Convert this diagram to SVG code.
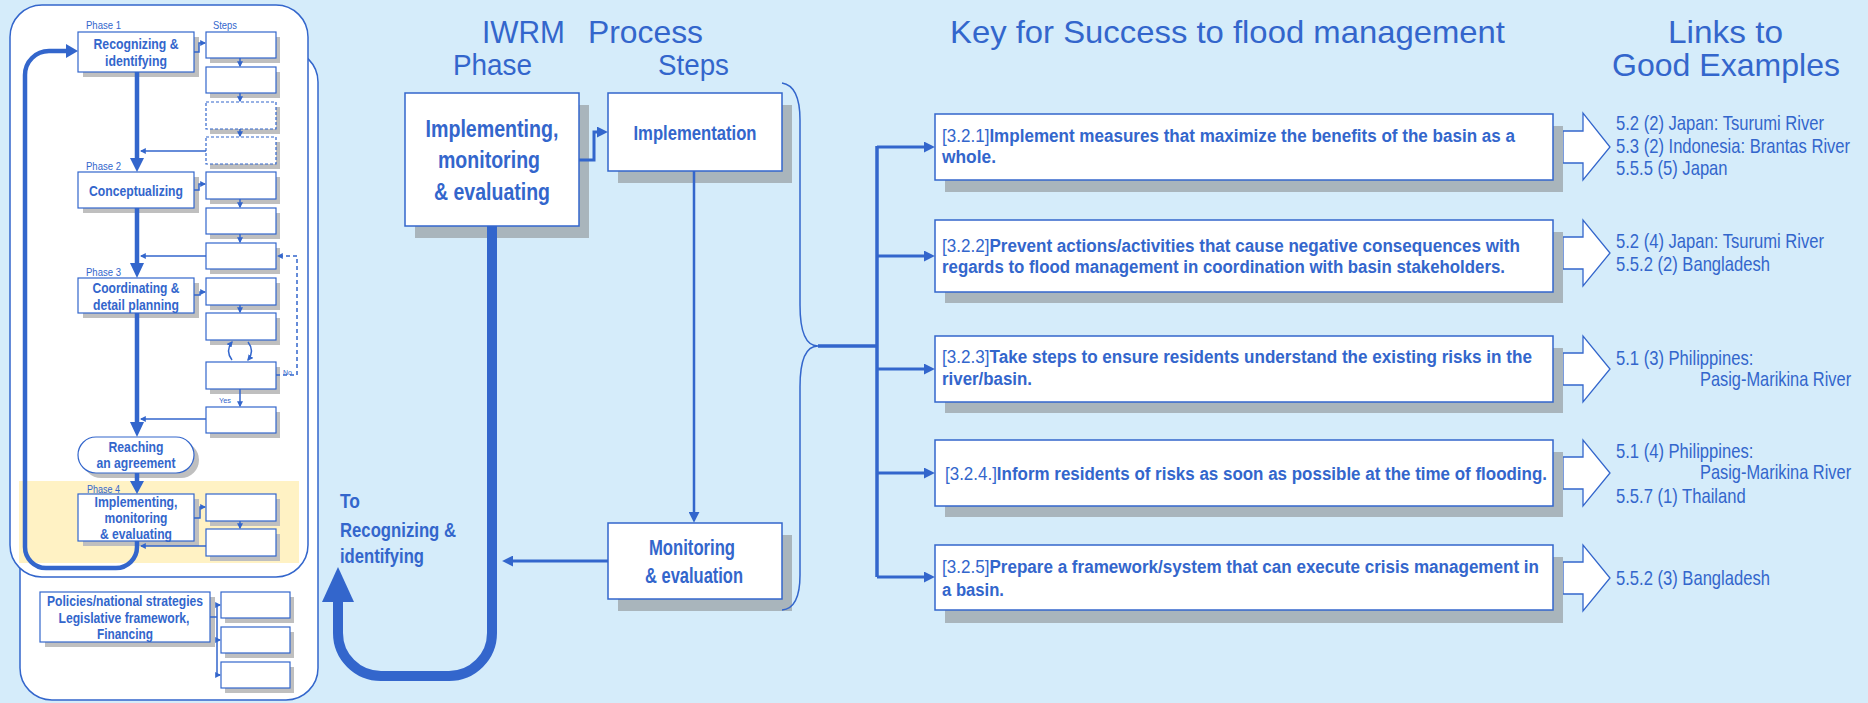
<svg xmlns="http://www.w3.org/2000/svg" width="1868" height="703" viewBox="0 0 1868 703">
<defs>
<style>
.t{font-family:"Liberation Sans",Arial,sans-serif;fill:#3366cc}
.b{font-weight:bold}
.c{text-anchor:middle}
.lk{font-family:"Liberation Sans",Arial,sans-serif;fill:#3366cc;font-size:20px}
.box{fill:#fff;stroke:#3366cc;stroke-width:1.5}
.sbox{fill:#fff;stroke:#3366cc;stroke-width:1.2}
.dbox{fill:#fff;stroke:#3366cc;stroke-width:1.2;stroke-dasharray:3,2}
.sh{fill:#a9b5bc}
.sh2{fill:#bfbfbf}
.ln{fill:none;stroke:#3366cc}
.ar{fill:#fff;stroke:#3366cc;stroke-width:1.3}
.hd{fill:#3366cc}
</style>
<marker id="ah" viewBox="0 0 10 10" refX="6.5" refY="5" markerWidth="11" markerHeight="11" markerUnits="userSpaceOnUse" orient="auto"><path d="M0,0L10,5L0,10z" fill="#3366cc"/></marker>
<marker id="as" viewBox="0 0 10 10" refX="8" refY="5" markerWidth="6" markerHeight="6" markerUnits="userSpaceOnUse" orient="auto"><path d="M0,0L10,5L0,10z" fill="#3366cc"/></marker>
</defs>
<rect x="0" y="0" width="1868" height="703" fill="#d5ecfa"/>

<g id="left-panel">
<rect x="20" y="50" width="298" height="650" rx="32" fill="#fff" stroke="#3366cc" stroke-width="1.5"/>
<rect x="10" y="5" width="298" height="572" rx="32" fill="#fff" stroke="#3366cc" stroke-width="1.5"/>
<rect x="19" y="481" width="280" height="82" fill="#fff2c4"/>
</g>

<g id="left-nodes">
<g id="phase1"><rect class="sh2" x="83" y="37" width="116" height="40"/><rect class="sbox" x="78" y="32" width="116" height="40"/>
<text class="t b c" x="136" y="49" font-size="14" textLength="85" lengthAdjust="spacingAndGlyphs">Recognizing &amp;</text>
<text class="t b c" x="136" y="66" font-size="14" textLength="62" lengthAdjust="spacingAndGlyphs">identifying</text></g>
<g id="phase2"><rect class="sh2" x="83" y="177" width="116" height="36"/><rect class="sbox" x="78" y="172" width="116" height="36"/>
<text class="t b c" x="136" y="196" font-size="14" textLength="94" lengthAdjust="spacingAndGlyphs">Conceptualizing</text></g>
<g id="phase3"><rect class="sh2" x="83" y="283" width="116" height="35"/><rect class="sbox" x="78" y="278" width="116" height="35"/>
<text class="t b c" x="136" y="293" font-size="14" textLength="87" lengthAdjust="spacingAndGlyphs">Coordinating &amp;</text>
<text class="t b c" x="136" y="310" font-size="14" textLength="86" lengthAdjust="spacingAndGlyphs">detail planning</text></g>
<g id="agreement"><rect class="sh2" x="83" y="442" width="116" height="36" rx="18"/><rect class="sbox" x="78" y="437" width="116" height="36" rx="18"/>
<text class="t b c" x="136" y="452" font-size="14" textLength="55" lengthAdjust="spacingAndGlyphs">Reaching</text>
<text class="t b c" x="136" y="468" font-size="14" textLength="79" lengthAdjust="spacingAndGlyphs">an agreement</text></g>
<g id="phase4"><rect class="sh2" x="83" y="499" width="116" height="47"/><rect class="sbox" x="78" y="494" width="116" height="47"/>
<text class="t b c" x="136" y="507" font-size="14" textLength="83" lengthAdjust="spacingAndGlyphs">Implementing,</text>
<text class="t b c" x="136" y="523" font-size="14" textLength="63" lengthAdjust="spacingAndGlyphs">monitoring</text>
<text class="t b c" x="136" y="539" font-size="14" textLength="72" lengthAdjust="spacingAndGlyphs">&amp; evaluating</text></g>
<g id="policies"><rect class="sh2" x="45" y="597" width="170" height="50"/><rect class="sbox" x="40" y="592" width="170" height="50"/>
<text class="t b c" x="125" y="606" font-size="14" textLength="156" lengthAdjust="spacingAndGlyphs">Policies/national strategies</text>
<text class="t b c" x="124" y="623" font-size="14" textLength="131" lengthAdjust="spacingAndGlyphs">Legislative framework,</text>
<text class="t b c" x="125" y="639" font-size="14" textLength="56" lengthAdjust="spacingAndGlyphs">Financing</text></g>
<g id="steps-left">
<rect class="sh2" x="210" y="37" width="70" height="26"/><rect class="sbox" x="206" y="32" width="70" height="26"/>
<rect class="sh2" x="210" y="72" width="70" height="26"/><rect class="sbox" x="206" y="67" width="70" height="26"/>
<rect class="sh2" x="210" y="107" width="70" height="27"/><rect class="dbox" x="206" y="102" width="70" height="27"/>
<rect class="sh2" x="210" y="142" width="70" height="27"/><rect class="dbox" x="206" y="137" width="70" height="27"/>
<rect class="sh2" x="210" y="177" width="70" height="27"/><rect class="sbox" x="206" y="172" width="70" height="27"/>
<rect class="sh2" x="210" y="213" width="70" height="26"/><rect class="sbox" x="206" y="208" width="70" height="26"/>
<rect class="sh2" x="210" y="248" width="70" height="26"/><rect class="sbox" x="206" y="243" width="70" height="26"/>
<rect class="sh2" x="210" y="283" width="70" height="27"/><rect class="sbox" x="206" y="278" width="70" height="27"/>
<rect class="sh2" x="210" y="318" width="70" height="27"/><rect class="sbox" x="206" y="313" width="70" height="27"/>
<rect class="sh2" x="210" y="367" width="70" height="27"/><rect class="sbox" x="206" y="362" width="70" height="27"/>
<rect class="sh2" x="210" y="412" width="70" height="26"/><rect class="sbox" x="206" y="407" width="70" height="26"/>
<rect class="sh2" x="210" y="499" width="70" height="27"/><rect class="sbox" x="206" y="494" width="70" height="27"/>
<rect class="sh2" x="210" y="534" width="70" height="27"/><rect class="sbox" x="206" y="529" width="70" height="27"/>
<rect class="sh2" x="225" y="597" width="69" height="26"/><rect class="sbox" x="221" y="592" width="69" height="26"/>
<rect class="sh2" x="225" y="632" width="69" height="26"/><rect class="sbox" x="221" y="627" width="69" height="26"/>
<rect class="sh2" x="225" y="667" width="69" height="26"/><rect class="sbox" x="221" y="662" width="69" height="26"/>
</g>
<g id="left-labels">
<text class="t" x="86" y="29" font-size="11" textLength="35" lengthAdjust="spacingAndGlyphs">Phase  1</text>
<text class="t" x="213" y="29" font-size="11" textLength="24" lengthAdjust="spacingAndGlyphs">Steps</text>
<text class="t" x="86" y="170" font-size="11" textLength="35" lengthAdjust="spacingAndGlyphs">Phase  2</text>
<text class="t" x="86" y="276" font-size="11" textLength="35" lengthAdjust="spacingAndGlyphs">Phase  3</text>
<text class="t" x="87" y="493" font-size="11" textLength="33" lengthAdjust="spacingAndGlyphs">Phase 4</text>
<text class="t" x="219" y="403" font-size="8" textLength="12" lengthAdjust="spacingAndGlyphs">Yes</text>
<text class="t" x="283" y="375" font-size="8" textLength="9" lengthAdjust="spacingAndGlyphs">No</text>
</g>
</g>

<g id="middle-nodes">
<g id="implementing"><rect class="sh" x="415" y="105" width="174" height="133"/><rect class="box" x="405" y="93" width="174" height="133"/>
<text class="t b c" x="492" y="137" font-size="24" textLength="133" lengthAdjust="spacingAndGlyphs">Implementing,</text>
<text class="t b c" x="489" y="168" font-size="24" textLength="102" lengthAdjust="spacingAndGlyphs">monitoring</text>
<text class="t b c" x="492" y="200" font-size="24" textLength="116" lengthAdjust="spacingAndGlyphs">&amp; evaluating</text></g>
<g id="implementation"><rect class="sh" x="618" y="105" width="174" height="78"/><rect class="box" x="608" y="93" width="174" height="78"/>
<text class="t b c" x="695" y="140" font-size="21" textLength="123" lengthAdjust="spacingAndGlyphs">Implementation</text></g>
<g id="monitoring"><rect class="sh" x="618" y="535" width="174" height="76"/><rect class="box" x="608" y="523" width="174" height="76"/>
<text class="t b c" x="692" y="555" font-size="22" textLength="86" lengthAdjust="spacingAndGlyphs">Monitoring</text>
<text class="t b c" x="694" y="583" font-size="22" textLength="98" lengthAdjust="spacingAndGlyphs">&amp; evaluation</text></g>
<g id="to-recognizing">
<text class="t b" x="340" y="508" font-size="20" textLength="20" lengthAdjust="spacingAndGlyphs">To</text>
<text class="t b" x="340" y="537" font-size="20" textLength="116" lengthAdjust="spacingAndGlyphs">Recognizing &amp;</text>
<text class="t b" x="340" y="563" font-size="20" textLength="84" lengthAdjust="spacingAndGlyphs">identifying</text></g>
</g>

<g id="titles">
<text class="t" y="43" font-size="32"><tspan x="482" textLength="83" lengthAdjust="spacingAndGlyphs">IWRM</tspan><tspan x="588" textLength="115" lengthAdjust="spacingAndGlyphs">Process</tspan></text>
<text class="t" x="453" y="75" font-size="29" textLength="79" lengthAdjust="spacingAndGlyphs">Phase</text>
<text class="t" x="658" y="75" font-size="29" textLength="71" lengthAdjust="spacingAndGlyphs">Steps</text>
<text class="t" x="950" y="43" font-size="32" textLength="555" lengthAdjust="spacingAndGlyphs">Key for Success to flood management</text>
<text class="t" x="1668" y="43" font-size="32" textLength="115" lengthAdjust="spacingAndGlyphs">Links to</text>
<text class="t" x="1612" y="76" font-size="32" textLength="228" lengthAdjust="spacingAndGlyphs">Good Examples</text>
</g>

<g id="key-nodes">
<g id="k321">
<polygon class="ar" points="1563,131 1583,131 1583,113 1610,147 1583,180 1583,163 1563,163"/>
<rect class="sh" x="945" y="126" width="618" height="66"/><rect class="box" x="935" y="114" width="618" height="66"/>
<text class="t b" x="942" y="142" font-size="18" textLength="573" lengthAdjust="spacingAndGlyphs"><tspan font-weight="normal">[3.2.1]</tspan>Implement measures that maximize the benefits of the basin as a</text>
<text class="t b" x="942" y="163" font-size="18" textLength="54" lengthAdjust="spacingAndGlyphs">whole.</text></g>
<g id="k322">
<polygon class="ar" points="1563,237 1583,237 1583,220 1610,253 1583,286 1583,269 1563,269"/>
<rect class="sh" x="945" y="232" width="618" height="71"/><rect class="box" x="935" y="220" width="618" height="72"/>
<text class="t b" x="942" y="252" font-size="18" textLength="578" lengthAdjust="spacingAndGlyphs"><tspan font-weight="normal">[3.2.2]</tspan>Prevent actions/activities that cause negative consequences with</text>
<text class="t b" x="942" y="273" font-size="18" textLength="563" lengthAdjust="spacingAndGlyphs">regards to flood management in coordination with basin stakeholders.</text></g>
<g id="k323">
<polygon class="ar" points="1563,353 1583,353 1583,336 1610,369 1583,402 1583,385 1563,385"/>
<rect class="sh" x="945" y="348" width="618" height="65"/><rect class="box" x="935" y="336" width="618" height="66"/>
<text class="t b" x="942" y="363" font-size="18" textLength="590" lengthAdjust="spacingAndGlyphs"><tspan font-weight="normal">[3.2.3]</tspan>Take steps to ensure residents understand the existing risks in the</text>
<text class="t b" x="942" y="385" font-size="18" textLength="90" lengthAdjust="spacingAndGlyphs">river/basin.</text></g>
<g id="k324">
<polygon class="ar" points="1563,457 1583,457 1583,440 1610,473 1583,506 1583,489 1563,489"/>
<rect class="sh" x="945" y="452" width="618" height="65"/><rect class="box" x="935" y="440" width="618" height="66"/>
<text class="t b" x="945" y="480" font-size="18" textLength="602" lengthAdjust="spacingAndGlyphs"><tspan font-weight="normal">[3.2.4.]</tspan>Inform residents of risks as soon as possible at the time of flooding.</text></g>
<g id="k325">
<polygon class="ar" points="1563,562 1583,562 1583,545 1610,578 1583,611 1583,594 1563,594"/>
<rect class="sh" x="945" y="557" width="618" height="66"/><rect class="box" x="935" y="545" width="618" height="65"/>
<text class="t b" x="942" y="573" font-size="18" textLength="597" lengthAdjust="spacingAndGlyphs"><tspan font-weight="normal">[3.2.5]</tspan>Prepare a framework/system that can execute crisis management in</text>
<text class="t b" x="942" y="596" font-size="18" textLength="62" lengthAdjust="spacingAndGlyphs">a basin.</text></g>
</g>

<g id="links">
<text class="lk" transform="translate(1616,130) scale(0.83,1)">5.2 (2) Japan: Tsurumi River</text>
<text class="lk" transform="translate(1616,153) scale(0.83,1)">5.3 (2) Indonesia: Brantas River</text>
<text class="lk" transform="translate(1616,175) scale(0.83,1)">5.5.5 (5) Japan</text>
<text class="lk" transform="translate(1616,248) scale(0.83,1)">5.2 (4) Japan: Tsurumi River</text>
<text class="lk" transform="translate(1616,271) scale(0.83,1)">5.5.2 (2) Bangladesh</text>
<text class="lk" transform="translate(1616,365) scale(0.83,1)">5.1 (3) Philippines:</text>
<text class="lk" transform="translate(1700,386) scale(0.82,1)">Pasig-Marikina River</text>
<text class="lk" transform="translate(1616,458) scale(0.83,1)">5.1 (4) Philippines:</text>
<text class="lk" transform="translate(1700,479) scale(0.82,1)">Pasig-Marikina River</text>
<text class="lk" transform="translate(1616,503) scale(0.83,1)">5.5.7 (1) Thailand</text>
<text class="lk" transform="translate(1616,585) scale(0.83,1)">5.5.2 (3) Bangladesh</text>
</g>

<g id="connectors">
<g class="ln" stroke-width="4.5">
<path d="M137,72V160M137,208V265M137,313V424M137,473V483"/>
<path d="M137,541V547A21,21 0 0 1 116,568H46A21,21 0 0 1 25,547V75A24,24 0 0 1 49,51H68"/>
</g>
<polygon class="hd" points="130,158 144,158 137,172"/>
<polygon class="hd" points="130,263 144,263 137,278"/>
<polygon class="hd" points="130,422 144,422 137,437"/>
<polygon class="hd" points="130,481 144,481 137,494"/>
<polygon class="hd" points="66,44 66,58 78,51"/>
<g class="ln" stroke-width="1.5">
<path d="M194,52H199V43H205" marker-end="url(#as)"/>
<path d="M194,190H199V184H205" marker-end="url(#as)"/>
<path d="M194,295H200V292H205" marker-end="url(#as)"/>
<path d="M194,518H200V507H205" marker-end="url(#as)"/>
<path d="M240,58V66" marker-end="url(#as)"/>
<path d="M240,93V101" marker-end="url(#as)"/>
<path d="M240,129V136" marker-end="url(#as)"/>
<path d="M240,199V207" marker-end="url(#as)"/>
<path d="M240,234V242" marker-end="url(#as)"/>
<path d="M240,305V312" marker-end="url(#as)"/>
<path d="M240,389V406" marker-end="url(#as)"/>
<path d="M240,521V528" marker-end="url(#as)"/>
<path d="M206,151H141" marker-end="url(#as)"/>
<path d="M206,256H141" marker-end="url(#as)"/>
<path d="M206,419H141" marker-end="url(#as)"/>
<path d="M206,546H141" marker-end="url(#as)"/>
<path d="M276,375H297V256H278" stroke-dasharray="4,3" marker-end="url(#as)"/>
<path d="M232,360Q225,351 232,342" marker-end="url(#as)"/>
<path d="M248,342Q255,351 248,360" marker-end="url(#as)"/>
<path d="M210,617H217M217,605V675"/>
<path d="M217,605H220" marker-end="url(#as)"/>
<path d="M217,640H220" marker-end="url(#as)"/>
<path d="M217,675H220" marker-end="url(#as)"/>
</g>
<path class="ln" stroke-width="10" d="M492,226V633A43,43 0 0 1 449,676H381A43,43 0 0 1 338,633V600"/>
<polygon class="hd" points="322,602 354,602 338,567"/>
<path class="ln" stroke-width="3" d="M579,160H594V132H604" marker-end="url(#ah)"/>
<path class="ln" stroke-width="2.5" d="M694,171V519" marker-end="url(#ah)"/>
<path class="ln" stroke-width="3" d="M608,561H506" marker-end="url(#ah)"/>
<path class="ln" stroke-width="1.5" d="M782,83C795,85 800,100 800,120V305C800,332 806,346 818,346C806,346 800,360 800,387V575C800,598 794,609 782,610"/>
<path class="ln" stroke-width="3.5" d="M818,346H877M877,146V577"/>
<g class="ln" stroke-width="3">
<path d="M877,147H931" marker-end="url(#ah)"/>
<path d="M877,256H931" marker-end="url(#ah)"/>
<path d="M877,369H931" marker-end="url(#ah)"/>
<path d="M877,473H931" marker-end="url(#ah)"/>
<path d="M877,577H931" marker-end="url(#ah)"/>
</g>
</g>
</svg>
